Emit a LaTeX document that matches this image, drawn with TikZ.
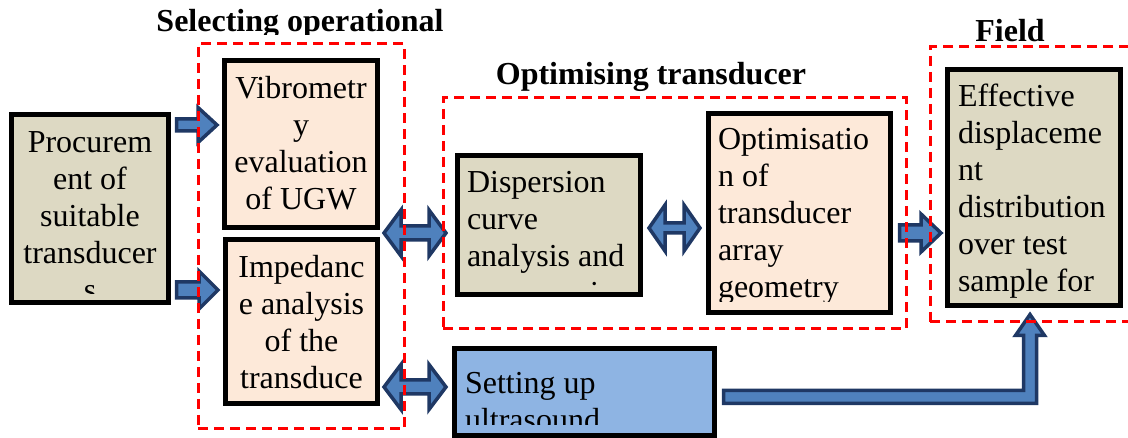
\documentclass[tikz,border=0pt]{standalone}
\usepackage{fontspec}
\setmainfont{Liberation Serif}
\usetikzlibrary{calc}
\definecolor{boxtan}{HTML}{DDD9C3}
\definecolor{boxpeach}{HTML}{FDE9D9}
\definecolor{boxblue}{HTML}{8EB4E3}
\definecolor{arrfill}{HTML}{4F81BD}
\definecolor{arrline}{HTML}{1F3864}
\definecolor{dashred}{HTML}{FF0000}
\newcommand\ctext[2]{\vtop{\hsize=#1\parindent=0pt\parskip=0pt\centering\fontsize{32}{37}\selectfont #2\par}}
\newcommand\ltext[2]{\vtop{\hsize=#1\parindent=0pt\parskip=0pt\raggedright\fontsize{32}{37}\selectfont #2\par}}
\newcommand\rightblock[5]{%
 \draw[barrow] ($(#1)+(0,-#3)$) -- ($(#2)+(-#5,-#3)$) -- ($(#2)+(-#5,-#4)$) -- (#2) -- ($(#2)+(-#5,#4)$) -- ($(#2)+(-#5,#3)$) -- ($(#1)+(0,#3)$) -- cycle;}
\newcommand\doubleblock[5]{%
 \draw[barrow] (#1) -- ($(#1)+(#5,-#4)$) -- ($(#1)+(#5,-#3)$) -- ($(#2)+(-#5,-#3)$) -- ($(#2)+(-#5,-#4)$) -- (#2) -- ($(#2)+(-#5,#4)$) -- ($(#2)+(-#5,#3)$) -- ($(#1)+(#5,#3)$) -- ($(#1)+(#5,#4)$) -- cycle;}
\tikzset{
 box/.style={draw=black, line width=5pt, inner sep=0pt},
 grp/.style={draw=dashred, line width=3pt, dash pattern=on 10pt off 6pt, inner sep=0pt},
 barrow/.style={fill=arrfill, draw=arrline, line width=3.5pt, line join=miter},
 txt/.style={inner sep=0pt, outer sep=0pt},
 ttl/.style={inner sep=0pt, outer sep=0pt, anchor=base, font=\fontsize{32}{37}\selectfont\bfseries},
}
\begin{document}
\begin{tikzpicture}[x=1pt,y=-1pt]
\useasboundingbox (0,0) rectangle (1128,438);
% boxes
\node[box, fill=boxtan, minimum width=157pt, minimum height=188pt] (proc) at (90,208.5) {};
\node[box, fill=boxpeach, minimum width=153pt, minimum height=167pt] (vib) at (301,144) {};
\node[box, fill=boxpeach, minimum width=152pt, minimum height=164pt] (imp) at (301.5,321.5) {};
\node[box, fill=boxtan, minimum width=183pt, minimum height=139pt] (disp) at (549,225) {};
\node[box, fill=boxpeach, minimum width=182pt, minimum height=199pt] (opt) at (799.5,213) {};
\node[box, fill=boxtan, minimum width=173pt, minimum height=236pt] (eff) at (1034,187.5) {};
\node[box, fill=boxblue, minimum width=260pt, minimum height=87pt] (set) at (584.5,392) {};
% texts (clipped inside boxes)
\begin{scope}\clip (14,117) rectangle (166,294);
\node[txt, anchor=base] (proct) at (90,153) {\ctext{160pt}{Procurem\\ent of\\suitable\\transducer\\s}};
\end{scope}
\begin{scope}\clip (227,63) rectangle (375,222);
\node[txt, anchor=base] (vibt) at (301,99) {\ctext{160pt}{Vibrometr\\y\\evaluation\\of UGW}};
\end{scope}
\begin{scope}\clip (228,242) rectangle (375,399);
\node[txt, anchor=base] (impt) at (301.5,278) {\ctext{160pt}{Impedanc\\e analysis\\of the\\transduce}};
\end{scope}
\begin{scope}\clip (460,158) rectangle (638,286);
\node[txt, anchor=base west] (dispt) at (467,193) {\ltext{200pt}{Dispersion\\curve\\analysis and\\\hspace*{123pt}i}};
\end{scope}
\begin{scope}\clip (711,116) rectangle (888,302);
\node[txt, anchor=base west] (optt) at (718,150) {\ltext{200pt}{Optimisatio\\n of\\transducer\\array\\geometry}};
\end{scope}
\begin{scope}\clip (950,72) rectangle (1118,301);
\node[txt, anchor=base west] (efft) at (958,107) {\ltext{200pt}{Effective\\displaceme\\nt\\distribution\\over test\\sample for}};
\end{scope}
\begin{scope}\clip (457,351) rectangle (712,425);
\node[txt, anchor=base west] (sett) at (465,394) {\ltext{250pt}{Setting up\\ultrasound}};
\end{scope}
% arrows
\coordinate (a1s) at ([xshift=5.5pt]proc.east |- 0,125);
\coordinate (a1e) at ([xshift=-5pt]vib.west |- 0,125);
\rightblock{a1s}{a1e}{6}{17.5}{19}
\coordinate (a2s) at ([xshift=5.5pt]proc.east |- 0,290);
\coordinate (a2e) at ([xshift=-5pt]imp.west |- 0,290);
\rightblock{a2s}{a2e}{8}{19}{19}
\coordinate (a3s) at ([xshift=4pt]vib.east |- 0,233);
\coordinate (a3e) at ([xshift=-9pt]disp.west |- 0,233);
\doubleblock{a3s}{a3e}{7}{23}{17}
\coordinate (a4s) at ([xshift=4pt]imp.east |- 0,387);
\coordinate (a4e) at ([xshift=-6pt]set.west |- 0,387);
\doubleblock{a4s}{a4e}{7}{22.5}{17}
\coordinate (a5s) at ([xshift=6pt]disp.east |- 0,228);
\coordinate (a5e) at ([xshift=-6pt]opt.west |- 0,228);
\doubleblock{a5s}{a5e}{5}{23}{16}
\coordinate (a6s) at ([xshift=6.5pt]opt.east |- 0,233);
\coordinate (a6e) at ([xshift=-4pt]eff.west |- 0,233);
\rightblock{a6s}{a6e}{8}{19}{20}
\coordinate (es) at ([xshift=6.5pt]set.east |- 0,397);
\coordinate (etip) at ([xshift=-4pt,yshift=-6.5pt]eff.south);
\draw[barrow] ($(es)+(0,-6.5)$) -- ($(etip |- es)+(-6.5,-6.5)$) -- ($(etip)+(-6.5,21)$) -- ($(etip)+(-14.5,21)$) -- (etip) -- ($(etip)+(14.5,21)$) -- ($(etip)+(6.5,21)$) -- ($(etip |- es)+(6.5,6.5)$) -- ($(es)+(0,6.5)$) -- cycle;
% dashed group frames
\node[grp, minimum width=206pt, minimum height=385pt] (g1) at (301,236.5) {};
\node[grp, minimum width=463pt, minimum height=231pt] (g2) at (674.5,213.5) {};
\node[grp, minimum width=210pt, minimum height=275pt] (g3) at (1035,184.5) {};
% titles
\begin{scope}\clip (100,0) rectangle (500,34.5);
\node[ttl] (t1) at (300,32) {Selecting operational};
\end{scope}
\node[ttl] (t2) at (651,85) {Optimising transducer};
\node[ttl] (t3) at (1010,42) {Field};
\end{tikzpicture}
\end{document}
